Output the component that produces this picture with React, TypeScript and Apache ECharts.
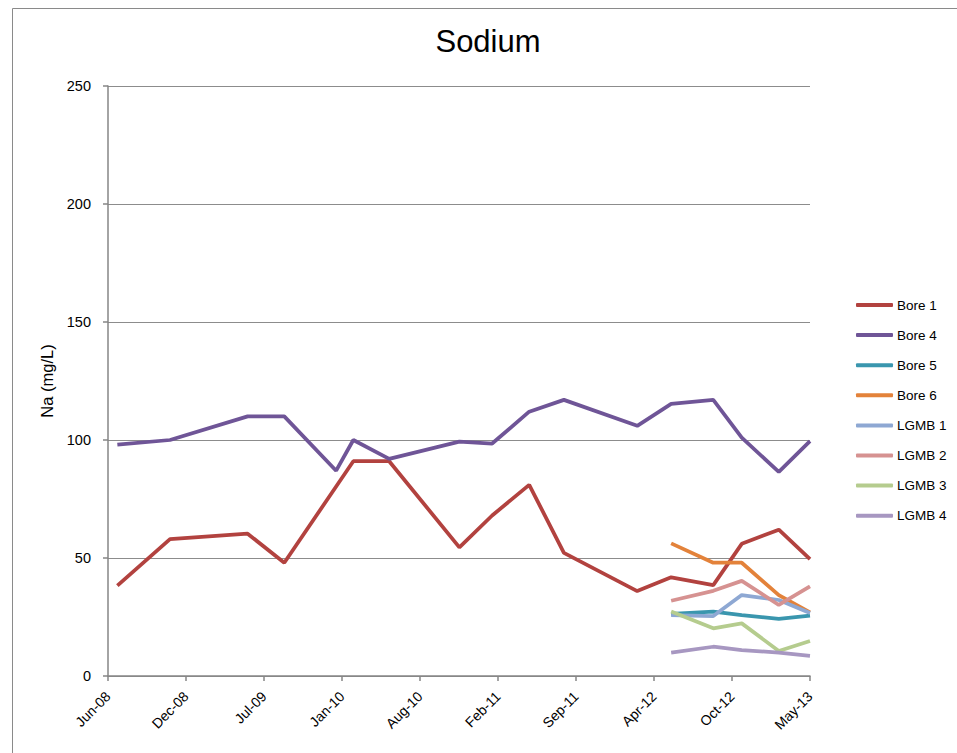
import React, { useEffect, useRef } from "react";
import * as echarts from "echarts";

const axisOrigin = "2008-06-01";
const xTickLabels = ["Jun-08", "Dec-08", "Jul-09", "Jan-10", "Aug-10", "Feb-11", "Sep-11", "Apr-12", "Oct-12", "May-13"];
const yTicks = [0, 50, 100, 150, 200, 250];

const longDates = [
  "2008-06-25", "2008-11-07", "2009-05-25", "2009-08-27", "2010-01-07", "2010-02-20",
  "2010-05-23", "2010-11-19", "2011-02-11", "2011-05-17", "2011-08-14", "2012-02-18",
  "2012-05-15", "2012-08-31", "2012-11-12", "2013-02-15", "2013-05-06",
];
const bore1 = [38.3, 58, 60.3, 48, 80.3, 91, 91, 54.5, 68, 81, 52.2, 36, 41.8, 38.5, 56, 62, 49.5];
const bore4 = [98, 100, 110, 110, 87, 100, 92, 99.3, 98.5, 112, 117, 106, 115.3, 117, 101, 86.5, 99.5];

const shortDates = ["2012-05-15", "2012-08-31", "2012-11-12", "2013-02-15", "2013-05-06"];
const bore5 = [26.3, 27.3, 25.8, 24.2, 25.6];
const bore6 = [56.2, 48, 48, 34.3, 27];
const lgmb1 = [25.8, 25.4, 34.3, 32.2, 26.7];
const lgmb2 = [31.9, 36.1, 40.3, 30.1, 38];
const lgmb3 = [27.3, 20.2, 22.3, 10.6, 14.8];
const lgmb4 = [9.9, 12.4, 11, 9.9, 8.5];

const seriesNames = ["Bore 1", "Bore 4", "Bore 5", "Bore 6", "LGMB 1", "LGMB 2", "LGMB 3", "LGMB 4"];
const seriesColors = ["#B2423F", "#6F5597", "#3A96AE", "#E3823A", "#8EA8D3", "#D69291", "#B5CC8E", "#A797C1"];

const dayMs = 86400000;
const toDays = (s: string) => Math.round((Date.parse(s) - Date.parse(axisOrigin)) / dayMs);
const pairs = (dates: string[], vals: number[]) => dates.map((d, i) => [toDays(d), vals[i]]);

const FONT = "'Liberation Sans', Arial, sans-serif";

export default function App() {
  const ref = useRef<HTMLDivElement>(null);
  useEffect(() => {
    if (!ref.current) return;
    const chart = echarts.init(ref.current, undefined, { renderer: "svg" });
    const seriesData = [
      pairs(longDates, bore1),
      pairs(longDates, bore4),
      pairs(shortDates, bore5),
      pairs(shortDates, bore6),
      pairs(shortDates, lgmb1),
      pairs(shortDates, lgmb2),
      pairs(shortDates, lgmb3),
      pairs(shortDates, lgmb4),
    ];
    const step = 200;
    chart.setOption({
      animation: false,
      backgroundColor: "#ffffff",
      title: {
        text: "Sodium",
        left: 483,
        top: 21,
        textAlign: "center",
        textStyle: { fontFamily: FONT, fontSize: 31, fontWeight: "normal", color: "#000" },
      },
      graphic: [
        {
          type: "rect",
          shape: { x: 12.5, y: 8.5, width: 1000, height: 1000 },
          style: { fill: "none", stroke: "#8a8a8a", lineWidth: 1 },
          silent: true,
        },
      ],
      grid: { left: 108, right: 147, top: 86, bottom: 77, containLabel: false },
      legend: {
        orient: "vertical",
        left: 856,
        top: 298,
        padding: 0,
        icon: "roundRect",
        itemWidth: 37,
        itemHeight: 4,
        itemGap: 16.1,
        textStyle: { fontFamily: FONT, fontSize: 13.5, color: "#000", padding: [0, 0, 0, -1] },
        data: seriesNames,
      },
      xAxis: {
        type: "value",
        min: 0,
        max: step * (xTickLabels.length - 1),
        interval: step,
        axisLine: { show: true, lineStyle: { color: "#868686", width: 1.5 } },
        axisTick: { show: true, length: 5, lineStyle: { color: "#868686", width: 1.5 } },
        splitLine: { show: false },
        axisLabel: {
          rotate: 45,
          margin: 18,
          fontFamily: FONT,
          fontSize: 14,
          color: "#000",
          formatter: (v: number) => xTickLabels[Math.round(v / step)] ?? "",
        },
      },
      yAxis: {
        type: "value",
        min: yTicks[0],
        max: yTicks[yTicks.length - 1],
        interval: 50,
        name: "Na (mg/L)",
        nameLocation: "middle",
        nameRotate: 90,
        nameGap: 53,
        nameTextStyle: { fontFamily: FONT, fontSize: 16.5, color: "#000" },
        axisLine: { show: true, lineStyle: { color: "#868686", width: 1.5 } },
        axisTick: { show: true, length: 5, lineStyle: { color: "#868686", width: 1.5 } },
        splitLine: { show: true, lineStyle: { color: "#8c8c8c", width: 1 } },
        axisLabel: { margin: 17, fontFamily: FONT, fontSize: 14.5, color: "#000" },
      },
      series: seriesNames.map((name, i) => ({
        name,
        type: "line",
        data: seriesData[i],
        symbol: "none",
        showSymbol: false,
        lineStyle: { width: 3.75, color: seriesColors[i] },
        itemStyle: { color: seriesColors[i] },
        color: seriesColors[i],
      })),
    });
    return () => chart.dispose();
  }, []);
  return (
    <div
      ref={ref}
      style={{ position: "fixed", left: 0, top: 0, width: 957, height: 753, background: "#fff" }}
    />
  );
}
